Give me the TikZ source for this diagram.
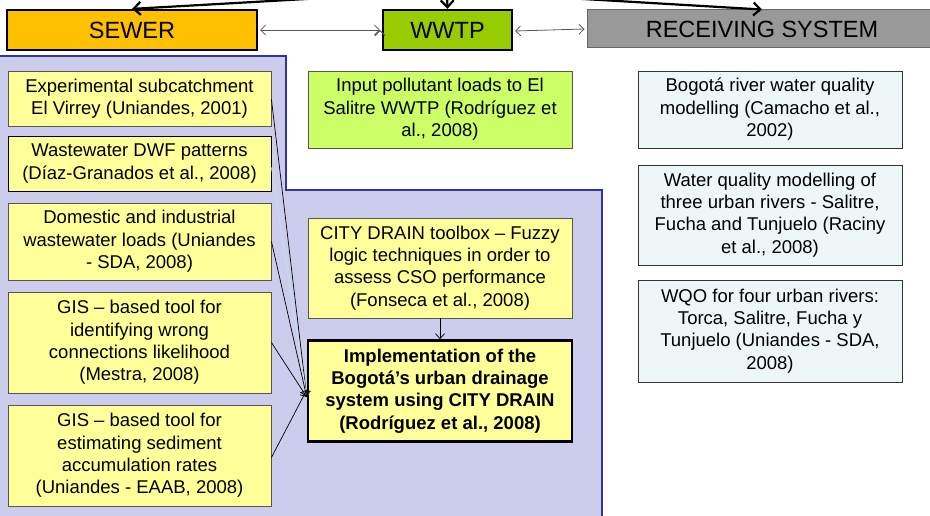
\documentclass[tikz,border=0pt]{standalone}
\usepackage{fontspec}
\setmainfont{Liberation Sans}
\usetikzlibrary{arrows.meta}
\definecolor{sewerfill}{HTML}{FFC000}
\definecolor{wwtpfill}{HTML}{99CC00}
\definecolor{recfill}{HTML}{999999}
\definecolor{recline}{HTML}{666666}
\definecolor{regionfill}{HTML}{CCCCEC}
\definecolor{regionline}{HTML}{333399}
\definecolor{yfill}{HTML}{FFFF99}
\definecolor{gfill}{HTML}{CCFF66}
\definecolor{cfill}{HTML}{EDF7F7}
\definecolor{boxline}{HTML}{555555}
\definecolor{lightconn}{HTML}{BFE6EE}
\tikzset{
  headbox/.style={draw=black, line width=2.2pt, inner sep=0pt, font=\fontsize{23.5}{26}\selectfont},
  textbox/.style={draw=boxline, line width=0.9pt, inner sep=0pt, align=center,
    font=\fontsize{18.5}{22.4}\selectfont, minimum width=263pt},
  ybox/.style={textbox, fill=yfill},
  gbox/.style={textbox, fill=gfill},
  cbox/.style={textbox, fill=cfill, draw=black!80},
  mainbox/.style={textbox, fill=yfill, draw=black, line width=2.6pt,
    font=\fontsize{18.5}{22.4}\selectfont\bfseries},
  bigarrow/.style={line width=2.2pt, -{Straight Barb[length=7pt,width=13pt,line width=2.2pt]}},
  twoway/.style={draw=black!65, line width=0.8pt,
    {Straight Barb[length=5pt,width=10pt]}-{Straight Barb[length=5pt,width=10pt]}},
  feed/.style={line width=0.7pt, -{Straight Barb[length=5pt,width=9pt]}},
}
\begin{document}
\begin{tikzpicture}[x=1pt,y=-1pt]
\useasboundingbox (0,0) rectangle (930,516);
% shaded region
\path[fill=regionfill, draw=regionline, line width=2pt]
  (-3,56) -- (286,56) -- (286,190) -- (602,190) -- (602,522) -- (-3,522) -- cycle;
% headers
\node[headbox, fill=sewerfill, minimum width=250pt, minimum height=40pt] (sewer) at (132,30) {SEWER};
\node[headbox, fill=wwtpfill, minimum width=129pt, minimum height=40pt] (wwtp) at (447.5,30) {WWTP};
\node[headbox, fill=recfill, draw=recline, line width=1pt, minimum width=350pt, minimum height=38pt] (rec) at (762,29) {RECEIVING SYSTEM};
\coordinate (src) at (447,-9);
\draw[bigarrow] (src) -- (sewer.north);
\draw[bigarrow] (src) -- (wwtp.north);
\draw[bigarrow] (src) -- (rec.north);
\draw[twoway] (sewer.east) ++(2,0) coordinate (se) (wwtp.west) ++(-2,0) coordinate (ww);
\draw[twoway] (se) -- (ww);
\draw[twoway] ([xshift=2pt,yshift=-1pt]wwtp.east) -- ([xshift=-2pt]rec.west);
% sewer column
\node[ybox, minimum height=55pt] (b1) at (139.5,98.5) {Experimental subcatchment\\El Virrey (Uniandes, 2001)};
\node[ybox, minimum height=55pt, draw=black] (b2) at (139.5,163.5) {Wastewater DWF patterns\\(Díaz-Granados et al., 2008)};
\node[ybox, minimum height=77pt] (b3) at (139.5,241.5) {Domestic and industrial\\wastewater loads (Uniandes\\- SDA, 2008)};
\node[ybox, minimum height=101pt] (b4) at (139.5,342.5) {GIS – based tool for\\identifying wrong\\connections likelihood\\(Mestra, 2008)};
\node[ybox, minimum height=101pt] (b5) at (139.5,455.5) {GIS – based tool for\\estimating sediment\\accumulation rates\\(Uniandes - EAAB, 2008)};
% middle column
\node[gbox, minimum width=264pt, minimum height=77pt] (g1) at (440,109.5) {Input pollutant loads to El\\Salitre WWTP (Rodríguez et\\al., 2008)};
\node[ybox, minimum width=264pt, minimum height=100pt] (cd) at (440,268) {CITY DRAIN toolbox – Fuzzy\\logic techniques in order to\\assess CSO performance\\(Fonseca et al., 2008)};
\node[mainbox, minimum width=264pt, minimum height=101pt] (impl) at (440,391) {Implementation of the\\Bogotá’s urban drainage\\system using CITY DRAIN\\(Rodríguez et al., 2008)};
% right column
\node[cbox, minimum width=264pt, minimum height=77pt] (r1) at (770,109.5) {Bogotá river water quality\\modelling (Camacho et al.,\\2002)};
\node[cbox, minimum width=264pt, minimum height=100pt] (r2) at (770,215) {Water quality modelling of\\three urban rivers - Salitre,\\Fucha and Tunjuelo (Raciny\\et al., 2008)};
\node[cbox, minimum width=264pt, minimum height=102pt] (r3) at (770,331) {WQO for four urban rivers:\\Torca, Salitre, Fucha y\\Tunjuelo (Uniandes - SDA,\\2008)};
% connectors
\coordinate (t1) at ([yshift=-6pt]impl.west);
\coordinate (t2) at ([yshift=1pt]impl.west);
\draw[feed] ([yshift=-1pt]b1.east) -- (t1);
\draw[feed, draw=lightconn] ([yshift=-4pt]b2.east) -- (t1);
\draw[feed] (b3.east) -- (t1);
\draw[feed] (b4.east) -- (t1);
\draw[feed] ([yshift=-2pt]b5.east) -- (t2);
\draw[feed] (cd.south) -- (impl.north);
\end{tikzpicture}
\end{document}
